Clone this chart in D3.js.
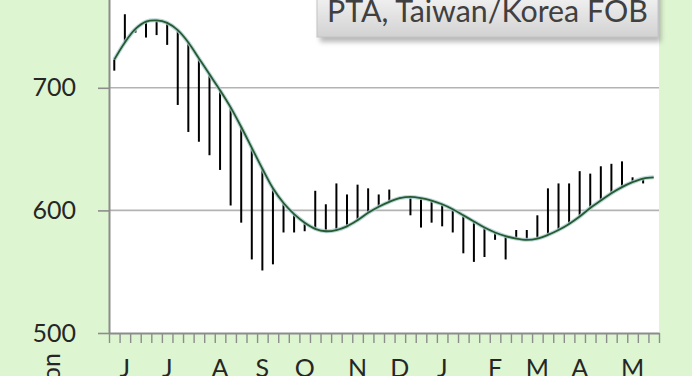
<!DOCTYPE html>
<html>
<head>
<meta charset="utf-8">
<script src="https://cdn.jsdelivr.net/npm/d3@7"></script>
<style>
  html, body { margin: 0; padding: 0; background: #ddf5d0; }
  svg { display: block; font-family: Lato, 'Open Sans', sans-serif; }
</style>
</head>
<body>
<svg id="chart" width="692" height="376"></svg>
<script>
// weekly PTA price (actual) and its smoothed trend, Jun -> May
const actual = [
  714, 760, 745, 741, 743, 735, 686, 664, 656, 645,
  633, 604, 590, 560, 551, 556, 582, 582, 583, 616,
  605, 622, 613, 621, 618, 613, 617, 611, 596, 586,
  590, 587, 582, 565, 558, 562, 576, 560, 584, 584,
  596, 618, 622, 622, 632, 630, 636, 638, 640, 627,
  622, 627
]
const trend = [
  723, 737, 748, 754, 755, 753, 747, 737, 724, 711,
  698, 684, 668, 651, 634, 618, 606, 597, 590, 585,
  583, 584, 587, 592, 598, 603, 607, 610, 611, 610,
  608, 605, 601, 596, 591, 586, 582, 579, 577, 576,
  577, 580, 584, 589, 595, 602, 608, 614, 619, 623,
  626, 627
]
const monthLabels = ['J', 'J', 'A', 'S', 'O', 'N', 'D', 'J', 'F', 'M', 'A', 'M']
const monthWeeks = [1, 5, 10, 14, 18, 23, 27, 31, 36, 40, 44, 49]
const yTicks = [500, 600, 700, 800]
const legendLabel = 'PTA, Taiwan/Korea FOB'

const svg = d3.select('#chart')
const left = 109
const right = 659
const bottom = 333

const weeks = d3.range(actual.length)
const x = d3.scaleBand().domain(weeks).range([left, right]).padding(0)
const xTick = d3.scaleLinear().domain([0, weeks.length]).range([left, right])
const y = d3.scaleLinear().domain([500, 800]).range([bottom, bottom - 3 * 122.6])
const cx = i => x(i) + x.bandwidth() / 2

// plot area
svg.append('rect')
  .attr('x', left).attr('y', y(800))
  .attr('width', right - left).attr('height', bottom - y(800))
  .attr('fill', '#ffffff')

svg.append('g')
  .selectAll('line')
  .data(yTicks.filter(d => d > 500))
  .join('line')
  .attr('x1', left).attr('x2', right)
  .attr('y1', d => y(d)).attr('y2', d => y(d))
  .attr('stroke', '#b3b3b3')
  .attr('stroke-width', 1.6)

// deviation bars, trend -> actual
svg.append('g')
  .selectAll('line')
  .data(weeks)
  .join('line')
  .attr('x1', cx).attr('x2', cx)
  .attr('y1', i => y(trend[i]))
  .attr('y2', i => y(actual[i]))
  .attr('stroke', '#000')
  .attr('stroke-width', 2)

const line = d3.line()
  .x((d, i) => cx(i))
  .y(d => y(d))
  .curve(d3.curveCatmullRom.alpha(0.5))

svg.append('path')
  .datum(trend)
  .attr('d', line)
  .attr('fill', 'none')
  .attr('stroke', '#a9cdd0')
  .attr('stroke-width', 4)
  .attr('opacity', 0.8)

svg.append('path')
  .datum(trend)
  .attr('d', line)
  .attr('fill', 'none')
  .attr('stroke', '#275a30')
  .attr('stroke-width', 1.8)

// axes
const yAxis = svg.append('g')
  .attr('transform', `translate(${left},0)`)
  .call(d3.axisLeft(y).tickValues(yTicks).tickSize(11).tickPadding(22).tickSizeOuter(0))
yAxis.select('.domain').attr('stroke', '#8c8c8c').attr('stroke-width', 2)
yAxis.selectAll('.tick line').attr('stroke', '#8c8c8c').attr('stroke-width', 1.6)
yAxis.selectAll('.tick text')
  .attr('font-size', 25)
  .attr('font-family', 'Lato, sans-serif')
  .attr('fill', '#262626')

const xAxis = svg.append('g')
  .attr('transform', `translate(0,${bottom})`)
  .call(d3.axisBottom(xTick).tickValues(d3.range(weeks.length + 1)).tickSize(10).tickFormat('').tickSizeOuter(0))
xAxis.select('.domain').attr('stroke', '#8c8c8c').attr('stroke-width', 2)
xAxis.selectAll('.tick line').attr('stroke', '#8c8c8c').attr('stroke-width', 1.4)

svg.append('g')
  .selectAll('text')
  .data(monthLabels)
  .join('text')
  .attr('x', (d, i) => cx(monthWeeks[i]))
  .attr('y', 377)
  .attr('text-anchor', 'middle')
  .attr('font-size', 25)
  .attr('fill', '#262626')
  .text(d => d)

svg.append('text')
  .attr('transform', 'translate(60,353) rotate(-90)')
  .attr('text-anchor', 'end')
  .attr('font-size', 25)
  .attr('fill', '#262626')
  .text('$/ton')

// legend box
const defs = svg.append('defs')
const grad = defs.append('linearGradient')
  .attr('id', 'legendFill')
  .attr('x1', 0).attr('y1', 0).attr('x2', 0).attr('y2', 1)
grad.append('stop').attr('offset', '0%').attr('stop-color', '#f6f6f6')
grad.append('stop').attr('offset', '100%').attr('stop-color', '#d2d2d2')
defs.append('filter')
  .attr('id', 'shadow')
  .attr('x', '-10%').attr('y', '-10%').attr('width', '130%').attr('height', '160%')
  .append('feGaussianBlur')
  .attr('stdDeviation', 2.5)

const legend = svg.append('g')
legend.append('rect')
  .attr('x', 320).attr('y', -10)
  .attr('width', 341).attr('height', 52)
  .attr('fill', '#7f7f7f')
  .attr('opacity', 0.55)
  .attr('filter', 'url(#shadow)')
legend.append('rect')
  .attr('x', 317).attr('y', -10)
  .attr('width', 341).attr('height', 47)
  .attr('fill', 'url(#legendFill)')
  .attr('stroke', '#c4c4c4')
  .attr('stroke-width', 1)
const legendText = legend.append('text')
  .attr('x', 327).attr('y', 22)
  .attr('font-size', 30)
  .attr('fill', '#404040')
  .text(legendLabel)
const len = legendText.node().getComputedTextLength()
legendText.attr('font-size', 30 * 321 / len)
</script>
</body>
</html>
